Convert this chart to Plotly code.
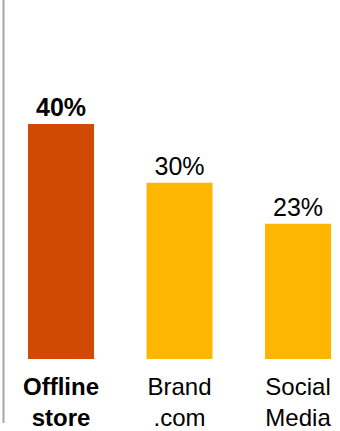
import plotly.graph_objects as go

categories = ["<b>Offline</b><br><b>store</b>", "Brand<br>.com", "Social<br>Media"]
values = [40, 30, 23]
value_labels = ["<b>40%</b>", "30%", "23%"]
colors = ["#D04A02", "#FFB600", "#FFB600"]

FONT = "Liberation Sans, Arial, Helvetica, sans-serif"

fig = go.Figure(go.Bar(
    x=[0, 1, 2],
    y=values,
    width=0.557,
    marker=dict(color=colors, line=dict(width=0)),
    text=value_labels,
    textposition="outside",
    textfont=dict(family=FONT, size=25, color="#000000"),
    cliponaxis=False,
))

fig.update_layout(
    width=340, height=431,
    margin=dict(l=0, r=0, t=0, b=72, autoexpand=False),
    paper_bgcolor="white", plot_bgcolor="white",
    showlegend=False,
    font=dict(family=FONT, size=25, color="#000000"),
    xaxis=dict(
        range=[-0.515, 2.354],
        tickmode="array", tickvals=[0, 1, 2], ticktext=categories,
        showgrid=False, zeroline=False, showline=False,
        automargin=False,
        ticks="outside", ticklen=6, tickcolor="rgba(0,0,0,0)",
        tickfont=dict(family=FONT, size=24, color="#000000"),
    ),
    yaxis=dict(range=[0, 61.1], visible=False, automargin=False),
    shapes=[dict(
        type="line", xref="paper", yref="paper",
        x0=3.5/340, x1=3.5/340, y0=(359-423)/359, y1=1,
        line=dict(color="#A6A6A6", width=2),
    )],
)

fig.write_html("out.html")
